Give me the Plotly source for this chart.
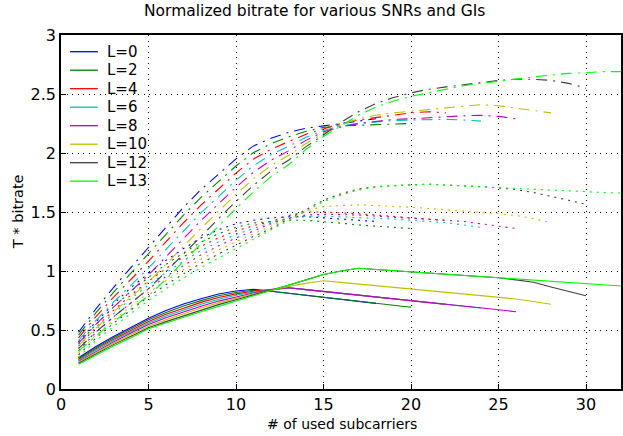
import plotly.graph_objects as go

# ---------------- data ----------------
L_LABELS = ["L=0", "L=2", "L=4", "L=6", "L=8", "L=10", "L=12", "L=13"]
COLORS = ["#0000FF", "#008000", "#FF0000", "#00BFBF", "#BF00BF", "#BFBF00", "#404040", "#00FF00"]
X_TICKS = [0, 5, 10, 15, 20, 25, 30]
Y_TICKS = [0, 0.5, 1, 1.5, 2, 2.5, 3]
Y_TICK_TEXT = ["0", "0.5", "1", "1.5", "2", "2.5", "3"]

# low SNR (solid), values at subcarriers 1..N
low_L0 = [0.265, 0.36, 0.445, 0.525, 0.60, 0.665, 0.72, 0.765, 0.805, 0.83, 0.845, 0.828, 0.811, 0.794, 0.777, 0.76, 0.743, 0.726]
low_L2 = [0.257, 0.35, 0.434, 0.512, 0.586, 0.649, 0.704, 0.749, 0.79, 0.818, 0.837, 0.828, 0.811, 0.794, 0.777, 0.76, 0.743, 0.726, 0.71, 0.693]
low_L4 = [0.249, 0.34, 0.422, 0.499, 0.573, 0.634, 0.687, 0.734, 0.775, 0.806, 0.829, 0.845, 0.858, 0.842, 0.827, 0.811, 0.795, 0.78, 0.764, 0.749, 0.733, 0.717]
low_L6 = [0.241, 0.33, 0.411, 0.486, 0.559, 0.618, 0.671, 0.718, 0.76, 0.794, 0.821, 0.84, 0.858, 0.842, 0.827, 0.811, 0.795, 0.78, 0.764, 0.749, 0.733, 0.717, 0.702, 0.686]
low_L8 = [0.234, 0.32, 0.399, 0.474, 0.546, 0.603, 0.654, 0.702, 0.745, 0.781, 0.814, 0.838, 0.858, 0.842, 0.827, 0.811, 0.795, 0.78, 0.764, 0.749, 0.733, 0.717, 0.702, 0.686, 0.671, 0.655]
low_L10 = [0.226, 0.31, 0.388, 0.461, 0.532, 0.587, 0.638, 0.687, 0.73, 0.769, 0.806, 0.837, 0.87, 0.895, 0.918, 0.904, 0.89, 0.876, 0.862, 0.848, 0.834, 0.819, 0.805, 0.791, 0.777, 0.763, 0.742, 0.718]
low_L12 = [0.218, 0.30, 0.376, 0.448, 0.519, 0.571, 0.621, 0.671, 0.715, 0.757, 0.798, 0.836, 0.88, 0.925, 0.97, 1.0, 1.023, 1.013, 1.003, 0.993, 0.983, 0.973, 0.963, 0.953, 0.943, 0.925, 0.905, 0.865, 0.83, 0.79]
low_L13 = [0.21, 0.29, 0.365, 0.435, 0.51, 0.56, 0.61, 0.655, 0.70, 0.745, 0.79, 0.835, 0.88, 0.925, 0.97, 1.0, 1.023, 1.013, 1.003, 0.993, 0.983, 0.973, 0.963, 0.953, 0.943, 0.933, 0.923, 0.913, 0.903, 0.893, 0.883, 0.873]

# medium SNR (dotted)
mid_L0 = [0.40, 0.57, 0.72, 0.86, 0.98, 1.09, 1.19, 1.28, 1.35, 1.40, 1.43, 1.45, 1.46, 1.46, 1.45, 1.44, 1.43, 1.42]
mid_L2 = [0.381, 0.547, 0.693, 0.829, 0.947, 1.056, 1.154, 1.244, 1.316, 1.37, 1.407, 1.42, 1.43, 1.43, 1.42, 1.405, 1.39, 1.38, 1.37, 1.36]
mid_L4 = [0.363, 0.524, 0.666, 0.797, 0.914, 1.021, 1.119, 1.209, 1.281, 1.34, 1.384, 1.42, 1.47, 1.50, 1.50, 1.495, 1.485, 1.475, 1.46, 1.45, 1.44, 1.43]
mid_L6 = [0.344, 0.501, 0.639, 0.766, 0.881, 0.987, 1.083, 1.173, 1.247, 1.31, 1.361, 1.41, 1.45, 1.465, 1.465, 1.46, 1.455, 1.45, 1.44, 1.43, 1.42, 1.41, 1.39, 1.37]
mid_L8 = [0.326, 0.479, 0.611, 0.734, 0.849, 0.953, 1.047, 1.137, 1.213, 1.28, 1.339, 1.40, 1.45, 1.475, 1.48, 1.48, 1.475, 1.465, 1.455, 1.445, 1.435, 1.425, 1.42, 1.40, 1.38, 1.36]
mid_L10 = [0.307, 0.456, 0.584, 0.703, 0.816, 0.919, 1.011, 1.101, 1.179, 1.25, 1.316, 1.38, 1.45, 1.51, 1.545, 1.555, 1.56, 1.555, 1.55, 1.54, 1.53, 1.52, 1.51, 1.50, 1.485, 1.47, 1.445, 1.41]
mid_L12 = [0.289, 0.433, 0.557, 0.671, 0.783, 0.884, 0.976, 1.066, 1.144, 1.22, 1.293, 1.36, 1.44, 1.52, 1.60, 1.655, 1.695, 1.715, 1.725, 1.73, 1.735, 1.73, 1.72, 1.715, 1.705, 1.69, 1.665, 1.635, 1.60, 1.565]
mid_L13 = [0.27, 0.41, 0.53, 0.64, 0.75, 0.85, 0.94, 1.03, 1.11, 1.19, 1.27, 1.35, 1.43, 1.51, 1.587, 1.644, 1.686, 1.71, 1.725, 1.73, 1.735, 1.73, 1.72, 1.715, 1.705, 1.70, 1.69, 1.685, 1.68, 1.67, 1.665, 1.66]

# high SNR (dash-dot)
high_L0 = [0.48, 0.68, 0.86, 1.03, 1.20, 1.375, 1.54, 1.69, 1.82, 1.95, 2.06, 2.125, 2.175, 2.21, 2.23, 2.25, 2.27, 2.29]
high_L2 = [0.457, 0.647, 0.819, 0.98, 1.141, 1.311, 1.474, 1.624, 1.757, 1.89, 2.004, 2.079, 2.136, 2.184, 2.217, 2.23, 2.235, 2.24, 2.25, 2.25]
high_L4 = [0.434, 0.614, 0.777, 0.93, 1.083, 1.248, 1.409, 1.559, 1.694, 1.83, 1.949, 2.032, 2.096, 2.159, 2.204, 2.25, 2.28, 2.30, 2.32, 2.34, 2.35, 2.34]
high_L6 = [0.411, 0.581, 0.736, 0.88, 1.024, 1.184, 1.343, 1.493, 1.631, 1.77, 1.893, 1.986, 2.057, 2.133, 2.191, 2.23, 2.25, 2.265, 2.275, 2.28, 2.285, 2.285, 2.28, 2.27]
high_L8 = [0.389, 0.549, 0.694, 0.83, 0.966, 1.121, 1.277, 1.427, 1.569, 1.71, 1.837, 1.939, 2.018, 2.107, 2.179, 2.22, 2.25, 2.27, 2.285, 2.29, 2.30, 2.31, 2.315, 2.32, 2.31, 2.29]
high_L10 = [0.366, 0.516, 0.653, 0.78, 0.907, 1.057, 1.211, 1.361, 1.506, 1.65, 1.781, 1.893, 1.979, 2.081, 2.166, 2.24, 2.29, 2.32, 2.34, 2.355, 2.37, 2.38, 2.40, 2.41, 2.40, 2.38, 2.36, 2.34]
high_L12 = [0.343, 0.483, 0.611, 0.73, 0.849, 0.994, 1.146, 1.296, 1.443, 1.59, 1.726, 1.846, 1.939, 2.054, 2.153, 2.26, 2.35, 2.42, 2.47, 2.51, 2.54, 2.56, 2.58, 2.60, 2.615, 2.625, 2.625, 2.615, 2.59, 2.55]
high_L13 = [0.32, 0.45, 0.57, 0.68, 0.79, 0.93, 1.08, 1.23, 1.38, 1.53, 1.67, 1.80, 1.90, 2.03, 2.14, 2.23, 2.32, 2.39, 2.44, 2.48, 2.51, 2.54, 2.57, 2.59, 2.61, 2.63, 2.645, 2.66, 2.675, 2.68, 2.69, 2.69]

LOW = [low_L0, low_L2, low_L4, low_L6, low_L8, low_L10, low_L12, low_L13]
MID = [mid_L0, mid_L2, mid_L4, mid_L6, mid_L8, mid_L10, mid_L12, mid_L13]
HIGH = [high_L0, high_L2, high_L4, high_L6, high_L8, high_L10, high_L12, high_L13]

# ---------------- figure ----------------
FONT = "DejaVu Sans, Liberation Sans, Arial, sans-serif"
W, H = 623, 436
ML, MR, MT, MB = 61, 0, 35, 47
PW, PH = W - ML - MR, H - MT - MB


def px_x(page_x):
    return (page_x - ML) / PW


def px_y(page_y):
    return (H - MB - page_y) / PH


fig = go.Figure()
groups = [
    (LOW, "solid"),
    (MID, "2px,5px"),
    (HIGH, "11px,6px,2px,6px"),
]
for series_list, dash in groups:
    for label, color, ys in zip(L_LABELS, COLORS, series_list):
        xs = list(range(1, len(ys) + 1))
        fig.add_trace(go.Scatter(
            x=xs, y=ys, mode="lines", name=label, showlegend=False,
            line=dict(color=color, width=1.1, dash=dash),
            hoverinfo="skip",
        ))

axis_common = dict(
    showline=True, linecolor="black", linewidth=1.5, mirror=True,
    ticks="inside", ticklen=5, tickcolor="black",
    showgrid=True, gridcolor="black", gridwidth=1, griddash="1px,4.5px",
    zeroline=False, tickfont=dict(family=FONT, size=16, color="black"),
)
fig.update_xaxes(range=[0, 32], tickvals=X_TICKS, ticktext=[str(v) for v in X_TICKS], **axis_common)
fig.update_yaxes(range=[0, 3], tickvals=Y_TICKS, ticktext=Y_TICK_TEXT, **axis_common)

# legend drawn as line samples + text (MATLAB-like tight spacing)
shapes = []
annotations = []
for i, (label, color) in enumerate(zip(L_LABELS, COLORS)):
    yc = px_y(51.7 + i * 18.5)
    shapes.append(dict(type="line", xref="paper", yref="paper",
                       x0=px_x(70), x1=px_x(98), y0=yc, y1=yc,
                       line=dict(color=color, width=1.3)))
    annotations.append(dict(text=label, xref="paper", yref="paper",
                            x=px_x(105), y=yc, xanchor="left", yanchor="middle",
                            showarrow=False, font=dict(family=FONT, size=15, color="black")))

annotations += [
    dict(text="Normalized bitrate for various SNRs and GIs", xref="paper", yref="paper",
         x=px_x(315.5), y=px_y(11), xanchor="center", yanchor="middle",
         showarrow=False, font=dict(family=FONT, size=15.5, color="black")),
    dict(text="# of used subcarriers", xref="paper", yref="paper",
         x=px_x(343), y=px_y(424), xanchor="center", yanchor="middle",
         showarrow=False, font=dict(family=FONT, size=14, color="black")),
    dict(text="T * bitrate", xref="paper", yref="paper", textangle=-90,
         x=px_x(18), y=0.5, xanchor="center", yanchor="middle",
         showarrow=False, font=dict(family=FONT, size=14.5, color="black")),
]

fig.update_layout(
    width=W, height=H,
    margin=dict(l=ML, r=MR, t=MT, b=MB, pad=0),
    paper_bgcolor="white", plot_bgcolor="white",
    font=dict(family=FONT, color="black"),
    showlegend=False,
    shapes=shapes,
    annotations=annotations,
)

# remove the browser's default 8px page margin so the figure sits at the window origin
fig.write_html("out.html", config={"displayModeBar": False},
               post_script="document.body.style.margin='0px';")
